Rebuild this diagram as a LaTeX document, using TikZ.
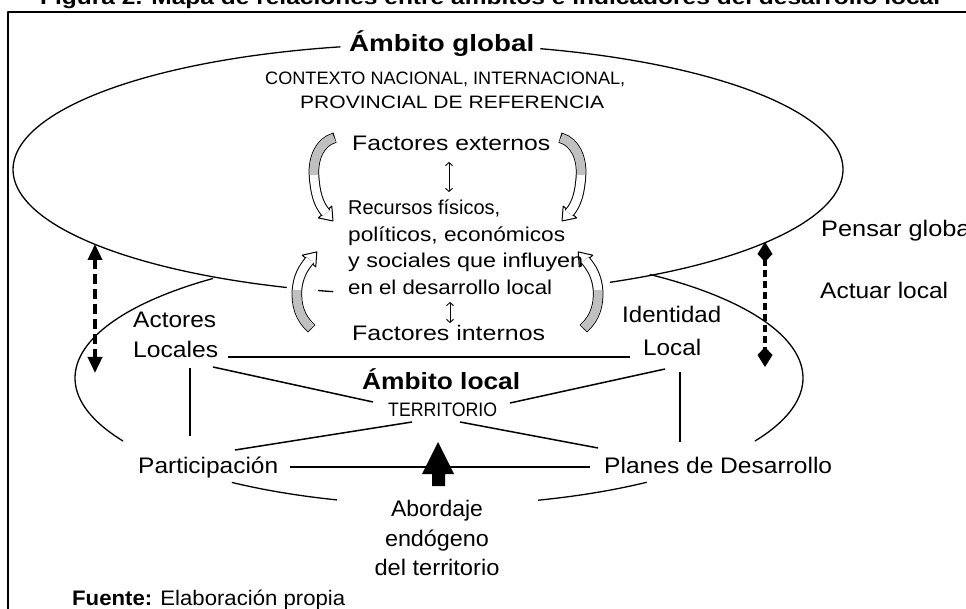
\documentclass[tikz,border=0pt]{standalone}
\usepackage{fontspec}
\setmainfont{Liberation Sans}
\usetikzlibrary{arrows.meta}
\definecolor{bandgray}{RGB}{192,192,192}
\newcommand{\fw}[3]{\fontsize{#1}{#1}\selectfont\resizebox{#2pt}{\height}{#3}}
\begin{document}
\begin{tikzpicture}[x=1pt,y=-1pt,line join=round,
  ell/.style={line width=1.3pt},
  conn/.style={line width=1.5pt},
  lbl/.style={inner sep=0pt,anchor=base west},
  lblc/.style={inner sep=0pt,anchor=base},
  bandout/.style={line width=10.5pt},
  bandin/.style={line width=8.5pt,white},
  bandgr/.style={line width=8.5pt,bandgray},
  headst/.style={fill=white,draw=black,line width=1pt}]
\path[use as bounding box] (0,0) rectangle (966,609);
\clip (0,0) rectangle (966,609);
\fill[white] (0,0) rectangle (966,609);

% frame
\draw[line width=2pt] (8,640) -- (8,12) -- (990,12);

% global ellipse
\draw[ell] plot[domain=109.9:257.8,samples=90] ({428+415*cos(\x)},{169.5+125.5*sin(\x)});
\draw[ell] plot[domain=103.2:105.4,samples=5] ({428+415*cos(\x)},{169.5+125.5*sin(\x)});
\draw[ell] plot[domain=-74.3:64,samples=110] ({428+415*cos(\x)},{169.5+125.5*sin(\x)});

% local ellipse
\draw[ell] plot[domain=150.2:231.6,samples=60] ({439+364*cos(\x)},{378+127*sin(\x)});
\draw[ell] plot[domain=106.3:124.7,samples=20] ({439+364*cos(\x)},{378+127*sin(\x)});
\draw[ell] plot[domain=55.2:74.2,samples=20] ({439+364*cos(\x)},{378+127*sin(\x)});
\draw[ell] plot[domain=-54.6:29.8,samples=70] ({439+364*cos(\x)},{378+127*sin(\x)});

% connector end points
\coordinate (h1) at (228,357); \coordinate (h2) at (630,357);
\coordinate (a1) at (213,367); \coordinate (a2) at (373,402);
\coordinate (b1) at (510,403); \coordinate (b2) at (665,369);
\coordinate (c1) at (412,422); \coordinate (c2) at (235,450);
\coordinate (d1) at (460,422); \coordinate (d2) at (598,448);
\coordinate (v1) at (190,368); \coordinate (v2) at (190,436);
\coordinate (w1) at (680,372); \coordinate (w2) at (680,442);
\coordinate (p1) at (290,467); \coordinate (p2) at (590,467);
\draw[conn] (h1) -- (h2);
\draw[conn] (a1) -- (a2);
\draw[conn] (b1) -- (b2);
\draw[conn] (c1) -- (c2);
\draw[conn] (d1) -- (d2);
\draw[conn] (v1) -- (v2);
\draw[conn] (w1) -- (w2);
\draw[conn] (p1) -- (p2);

% big arrow
\fill (438,442) -- (454,474) -- (445,474) -- (445,486) -- (432,486) -- (432,474) -- (422,474) -- cycle;

% dashed double arrows
\coordinate (l1) at (95,244); \coordinate (l2) at (95,373);
\coordinate (r1) at (765,242); \coordinate (r2) at (765,367);
\draw[line width=3.5pt,dash pattern=on 10pt off 5pt,
  {Triangle[length=16pt,width=14pt]}-{Triangle[length=16pt,width=14pt]}] (l1) -- (l2);
\draw[line width=3.5pt,dash pattern=on 7pt off 4pt,
  {Kite[length=20pt,width=15pt,inset=8pt]}-{Kite[length=20pt,width=15pt,inset=8pt]}] (r1) -- (r2);

% small double arrows
\coordinate (s1) at (449,162); \coordinate (s2) at (449,192);
\coordinate (t1) at (450,302); \coordinate (t2) at (450,323);
\draw[line width=0.9pt,{Straight Barb[length=3pt,width=7pt]}-{Straight Barb[length=3pt,width=7pt]}] (s1) -- (s2);
\draw[line width=0.9pt,{Straight Barb[length=3pt,width=7pt]}-{Straight Barb[length=3pt,width=7pt]}] (t1) -- (t2);

% curly arrow top-left
\filldraw[headst] (318.3,217.9) -- (333,221) -- (331.8,206.1) -- cycle;
\draw[bandout] (335,137.7) -- (334,138) .. controls (320,142) and (313,158) .. (314,175) .. controls (315,192) and (318,204) .. (326,213.1);
\draw[bandin] (334,138) .. controls (320,142) and (313,158) .. (314,175) .. controls (315,192) and (318,204) .. (326,213.1);
\draw[bandgr] (334,138) .. controls (320,142) and (313,158) .. (314,175);
% curly arrow top-right
\filldraw[headst] (576.7,217.9) -- (562,221) -- (563.2,206.1) -- cycle;
\draw[bandout] (560,137.7) -- (561,138) .. controls (575,142) and (582,158) .. (581,175) .. controls (580,192) and (577,204) .. (569,213.1);
\draw[bandin] (561,138) .. controls (575,142) and (582,158) .. (581,175) .. controls (580,192) and (577,204) .. (569,213.1);
\draw[bandgr] (561,138) .. controls (575,142) and (582,158) .. (581,175);
% curly arrow bottom-left
\filldraw[headst] (315.8,266.9) -- (316.8,251.9) -- (302.2,255.2) -- cycle;
\draw[bandout] (311.7,328.7) -- (311,328) .. controls (300,318) and (296,305) .. (297,290) .. controls (298,277) and (303,268) .. (310,259.9);
\draw[bandin] (311,328) .. controls (300,318) and (296,305) .. (297,290) .. controls (298,277) and (303,268) .. (310,259.9);
\draw[bandgr] (311,328) .. controls (300,318) and (296,305) .. (297,290);
% curly arrow bottom-right
\filldraw[headst] (579.2,266.9) -- (578.2,251.9) -- (592.8,255.2) -- cycle;
\draw[bandout] (583.3,328.7) -- (584,328) .. controls (595,318) and (599,305) .. (598,290) .. controls (597,277) and (592,268) .. (585,259.9);
\draw[bandin] (584,328) .. controls (595,318) and (599,305) .. (598,290) .. controls (597,277) and (592,268) .. (585,259.9);
\draw[bandgr] (584,328) .. controls (595,318) and (599,305) .. (598,290);

% texts
\node[lbl] (ttl) at (40,5) {\fw{20}{900}{\bfseries Figura 2. Mapa de relaciones entre ámbitos e indicadores del desarrollo local}};
\node[lbl] (glob) at (349,52) {\fw{23.5}{185}{\bfseries Ámbito global}};
\node[lbl] (ctx1) at (265,84.5) {\fw{18}{360}{CONTEXTO NACIONAL, INTERNACIONAL,}};
\node[lbl] (ctx2) at (300,108.5) {\fw{18}{304}{PROVINCIAL DE REFERENCIA}};
\node[lbl] (fext) at (352,151) {\fw{21}{198}{Factores externos}};
\node[lbl] (rec1) at (348,215) {\fw{20}{152}{Recursos físicos,}};
\node[lbl] (rec2) at (348,242) {\fw{20}{217}{políticos, económicos}};
\node[lbl] (rec3) at (348,268) {\fw{20}{235}{y sociales que influyen}};
\node[lbl] (rec4) at (348,295) {\fw{20}{204}{en el desarrollo local}};
\node[lbl] (fint) at (352,341) {\fw{21}{193}{Factores internos}};
\node[lbl] (act1) at (133,328) {\fw{22.5}{83}{Actores}};
\node[lbl] (act2) at (133,357) {\fw{22.5}{85}{Locales}};
\node[lbl] (ide1) at (622,323) {\fw{22.5}{99}{Identidad}};
\node[lbl] (ide2) at (643,355) {\fw{22.5}{58}{Local}};
\node[lbl] (loc) at (362,389) {\fw{23.5}{158}{\bfseries Ámbito local}};
\node[lbl] (terr) at (388,416) {\fw{19.5}{109}{TERRITORIO}};
\node[lbl] (part) at (138,473) {\fw{22.5}{140}{Participación}};
\node[lbl] (plan) at (604,473) {\fw{22.5}{228}{Planes de Desarrollo}};
\node[lblc] (abo1) at (437,516) {\fw{22.5}{92}{Abordaje}};
\node[lblc] (abo2) at (437,546) {\fw{22.5}{104}{endógeno}};
\node[lblc] (abo3) at (437,575) {\fw{22.5}{125}{del territorio}};
\node[lbl] (fte) at (72,605) {\fw{21}{273}{\textbf{Fuente:} Elaboración propia}};
\node[lbl] (pen) at (821,237) {\fw{22.5}{155}{Pensar global}};
\node[lbl] (actu) at (820,299) {\fw{22.5}{128}{Actuar local}};
\end{tikzpicture}
\end{document}
